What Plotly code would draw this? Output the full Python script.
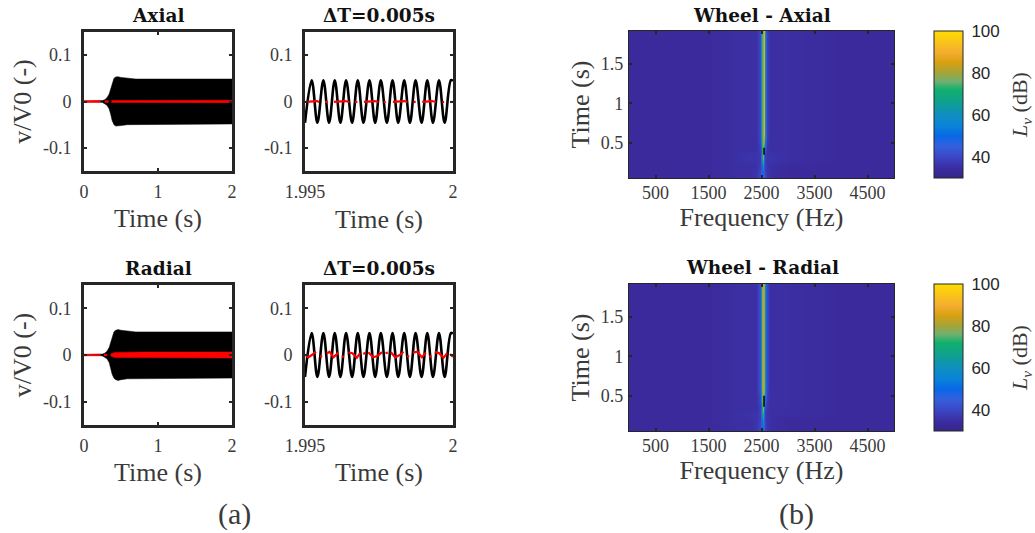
import plotly.graph_objects as go

W, H = 1035, 533
INK = "#262626"
TXT = "#3a3a3a"
SERIF = "Liberation Serif"
TITLE_FONT = "DejaVu Serif"

# --- full-record envelopes (s, v/V0)
ENV_T = [0, 0.2, 0.25, 0.28, 0.31, 0.34, 0.36, 0.38, 0.405, 0.43, 0.46, 0.5, 0.585, 0.7, 1.0, 2.0]
ENV_AXIAL = [0.0005, 0.001, 0.002, 0.004, 0.008, 0.016, 0.027, 0.041, 0.05, 0.053, 0.0535, 0.052, 0.05, 0.0485, 0.0485, 0.0485]
ENV_RADIAL = [0.0005, 0.001, 0.002, 0.004, 0.008, 0.016, 0.027, 0.041, 0.05, 0.053, 0.0545, 0.053, 0.051, 0.0495, 0.0495, 0.0495]
RED_AXIAL_T = [[0, 0.22], [0.28, 0.33], [0.37, 0.8, 2.0]]
RED_AXIAL_A = [[0.002, 0.002], [0.002, 0.002], [0.002, 0.0025, 0.0025]]
RED_RADIAL_T = [[0, 0.22], [0.27, 0.31], [0.36, 0.42, 0.8, 2.0]]
RED_RADIAL_A = [[0.0018, 0.0018], [0.002, 0.002], [0.002, 0.0055, 0.0065, 0.0065]]

# --- 5 ms window: extrema of the sine (ms after 1.995 s)
WIN_T_AXIAL = [0, 0.226, 0.418, 0.621, 0.813, 1.005, 1.196, 1.388, 1.591, 1.783, 1.975, 2.178, 2.370, 2.562,
               2.765, 2.957, 3.149, 3.352, 3.544, 3.736, 3.939, 4.131, 4.323, 4.526, 4.718, 4.93, 5.0]
WIN_V_AXIAL = [-0.046, 0.046, -0.046, 0.046, -0.046, 0.046, -0.046, 0.046, -0.046, 0.046, -0.046, 0.046, -0.046,
               0.046, -0.046, 0.046, -0.046, 0.046, -0.046, 0.046, -0.046, 0.046, -0.046, 0.046, -0.046, 0.046, 0.045]
WIN_V_RADIAL = [-0.047, 0.047, -0.047, 0.047, -0.047, 0.047, -0.047, 0.047, -0.047, 0.047, -0.047, 0.047, -0.047,
                0.047, -0.047, 0.047, -0.047, 0.047, -0.047, 0.047, -0.047, 0.047, -0.047, 0.047, -0.047, 0.047, 0.046]

RED_WIN_T_AXIAL = [0.03, 0.2, 0.4, 0.48, None, 0.68, 0.78, None, 0.98, 1.15, 1.35, 1.5, None, 1.69, 1.77, None,
                   1.99, 2.15, 2.35, 2.48, None, 2.66, 2.73, None, 2.97, 3.15, 3.35, 3.46, None, 3.66, 3.74, None,
                   3.96, 4.1, 4.3, 4.42, None, 4.64, 4.7, None, 4.93, 5.0]
RED_WIN_V_AXIAL = [-0.001, 0.0, 0.001, -0.001, None, -0.001, -0.001, None, -0.001, 0.0, 0.001, -0.001, None, -0.001, -0.001, None,
                   -0.001, 0.0, 0.001, -0.001, None, -0.001, -0.001, None, -0.001, 0.0, 0.001, -0.001, None, -0.001, -0.001, None,
                   -0.001, 0.0, 0.001, -0.001, None, -0.001, -0.001, None, -0.001, -0.001]
RED_WIN_T_RADIAL = [0.0, 0.11, 0.23, 0.37, None, 0.51, 0.58, None, 0.73, 0.83, 0.96, 1.13, None, 1.24, 1.31, None,
                    1.46, 1.6, 1.75, 1.86, None, 1.97, 2.05, None, 2.14, 2.3, 2.45, 2.6, None, 2.72, 2.8, None,
                    2.9, 3.05, 3.2, 3.33, None, 3.45, 3.52, None, 3.65, 3.8, 3.95, 4.08, None, 4.2, 4.28, None,
                    4.38, 4.53, 4.68, 4.8, None, 4.9, 5.0]
RED_WIN_V_RADIAL = [0.001, -0.005, 0.0, 0.007, None, -0.002, -0.004, None, 0.003, 0.007, -0.005, 0.005, None, -0.004, -0.003, None,
                    0.006, 0.004, -0.006, 0.004, None, 0.002, 0.005, None, 0.006, -0.005, -0.002, 0.006, None, 0.004, 0.005, None,
                    0.006, -0.005, 0.0, 0.007, None, -0.002, -0.004, None, 0.005, 0.007, -0.005, 0.005, None, -0.004, -0.002, None,
                    0.006, 0.004, -0.006, 0.004, None, 0.002, -0.004]

# --- spectrograms
FREQ = [0, 500, 1000, 1500, 2000, 2250, 2400, 2470, 2495, 2510, 2525, 2540, 2555, 2570, 2595, 2660, 3000, 4000, 5000]
TIMES = [0.05, 0.14, 0.2, 0.27, 0.34, 0.42, 0.6, 1.2, 1.92]
AX_T005 = [34, 34, 34, 34, 35, 35, 36, 40, 43, 45, 46, 44, 43, 40, 37, 35, 34, 34, 34]
AX_T014 = [34, 34, 34, 34, 35, 35, 36, 39, 43, 47, 50, 47, 43, 39, 36, 35, 34, 34, 34]
AX_T020 = [34, 34, 34, 34, 35, 35, 35, 38, 42, 50, 62, 50, 42, 38, 36, 35, 34, 34, 34]
AX_T027 = [34, 34, 34, 34, 35, 36, 36, 37, 44, 60, 72, 62, 44, 38, 36, 36, 35, 34, 34]
AX_T034 = [34, 34, 34, 34, 35, 36, 36, 37, 46, 66, 80, 78, 52, 38, 36, 36, 35, 34, 34]
AX_T042 = [34, 34, 34, 34, 35, 35, 35, 38, 50, 72, 82, 86, 66, 42, 36, 35, 35, 34, 34]
AX_T060 = [34, 34, 34, 34, 35, 35, 35, 40, 60, 74, 80, 88, 88, 58, 38, 35, 35, 34, 34]
AX_T120 = [34, 34, 34, 34, 35, 35, 35, 40, 60, 74, 80, 88, 88, 58, 38, 35, 35, 34, 34]
AX_T192 = [34, 34, 34, 34, 35, 35, 35, 40, 60, 74, 80, 88, 88, 58, 38, 35, 35, 34, 34]
RA_T005 = [34, 34, 34, 34, 35, 35, 36, 39, 43, 46, 48, 45, 42, 39, 36, 35, 34, 34, 34]
RA_T014 = [34, 34, 34, 34, 35, 35, 36, 39, 44, 48, 56, 48, 44, 39, 36, 35, 34, 34, 34]
RA_T020 = [34, 34, 34, 34, 35, 35, 36, 38, 44, 52, 66, 52, 44, 38, 36, 35, 34, 34, 34]
RA_T027 = [34, 34, 34, 34, 35, 36, 36, 38, 45, 62, 72, 64, 46, 38, 36, 35, 35, 34, 34]
RA_T034 = [34, 34, 34, 34, 35, 35, 35, 38, 48, 70, 80, 78, 54, 40, 36, 35, 35, 34, 34]
RA_T042 = [34, 34, 34, 34, 35, 35, 35, 39, 54, 74, 84, 86, 68, 44, 37, 35, 35, 34, 34]
RA_T060 = [34, 34, 34, 34, 35, 35, 35, 42, 62, 76, 84, 92, 80, 60, 40, 35, 35, 34, 34]
RA_T120 = [34, 34, 34, 34, 35, 35, 35, 42, 62, 76, 84, 92, 80, 60, 40, 35, 35, 34, 34]
RA_T192 = [34, 34, 34, 34, 35, 35, 35, 42, 62, 76, 84, 92, 80, 60, 40, 35, 35, 34, 34]
BLACK_F = 2548
BLACK_T_AXIAL = [0.347, 0.436]
BLACK_T_RADIAL = [0.36, 0.5]

CMAP_LEVELS = [30, 34, 40, 45, 50, 55, 60, 66, 72, 76, 80, 85, 90, 100]
CMAP_COLORS = ["#35268a", "#3b2a9c", "#3c46c6", "#3560dc", "#0868e8", "#0a84d8", "#0f8ec0", "#10a090",
               "#10b06e", "#70b070", "#a4a43a", "#d9a010", "#f5ae30", "#ffdc00"]
colorscale = [[(v - 30) / 70, c] for v, c in zip(CMAP_LEVELS, CMAP_COLORS)]


def xdom(a, b):
    return [a / W, b / W]


def ydom(top, bottom):
    return [1 - bottom / H, 1 - top / H]


def band(t, a):
    return t + t[::-1] + [None], a + [-v for v in a[::-1]] + [None]


def flat(ts, amps):
    X, Y = [], []
    for t, a in zip(ts, amps):
        x, y = band(t, a)
        X += x
        Y += y
    return X, Y


fig = go.Figure()

tick_font = dict(family=SERIF, size=18, color=TXT)
lab_font = dict(family=SERIF, size=26, color=TXT)


def frame(lw):
    return dict(showline=True, linecolor=INK, linewidth=lw, mirror="allticks", ticks="inside", ticklen=3,
                tickwidth=1.5, tickcolor=INK, showgrid=False, zeroline=False, tickfont=tick_font, automargin=False)


def add_time_axes(n, xd, yd, xr, xvals, xtext, ylab, xstand):
    xa = frame(2.6)
    ya = frame(2.6)
    xa.update(domain=xdom(*xd), range=xr, tickvals=xvals, ticktext=xtext, anchor=f"y{n}",
              ticklabelstandoff=3, title=dict(text="Time (s)", font=lab_font, standoff=xstand))
    ya.update(domain=ydom(*yd), range=[-0.15, 0.15], tickvals=[-0.1, 0, 0.1], ticktext=["-0.1", "0", "0.1"],
              anchor=f"x{n}", ticklabelstandoff=6)
    if ylab:
        ya["title"] = dict(text=ylab, font=lab_font, standoff=4)
    fig.update_layout({f"xaxis{n}": xa, f"yaxis{n}": ya})


TOP, BOT = (32, 171), (285, 425)
add_time_axes(1, (84, 232), TOP, [0, 2], [0, 1, 2], ["0", "1", "2"], "v/V0 (-)", 8)
add_time_axes(2, (305, 453), TOP, [1.995, 2.0], [1.995, 2.0], ["1.995", "2"], None, 9)
add_time_axes(3, (84, 232), BOT, [0, 2], [0, 1, 2], ["0", "1", "2"], "v/V0 (-)", 8)
add_time_axes(4, (305, 453), BOT, [1.995, 2.0], [1.995, 2.0], ["1.995", "2"], None, 8)


def add_full(n, env, red_t, red_a):
    xs, ys = band(ENV_T, env)
    fig.add_trace(go.Scatter(x=xs, y=ys, mode="lines", fill="toself", fillcolor="#000000",
                             line=dict(color="#000000", width=0.5), xaxis=f"x{n}", yaxis=f"y{n}"))
    xs, ys = flat(red_t, red_a)
    fig.add_trace(go.Scatter(x=xs, y=ys, mode="lines", fill="toself", fillcolor="#ff0000",
                             line=dict(color="#ff0000", width=0.5), xaxis=f"x{n}", yaxis=f"y{n}"))


def sec(ms):
    return [None if m is None else 1.995 + m / 1000 for m in ms]


def add_win(n, v, rt, rv):
    fig.add_trace(go.Scatter(x=sec(WIN_T_AXIAL), y=v, mode="lines", line=dict(color="#000000", width=2.6, shape="spline", smoothing=1),
                             xaxis=f"x{n}", yaxis=f"y{n}"))
    fig.add_trace(go.Scatter(x=sec(rt), y=rv, mode="lines", line=dict(color="#ff0000", width=2.2),
                             connectgaps=False, xaxis=f"x{n}", yaxis=f"y{n}"))


add_full(1, ENV_AXIAL, RED_AXIAL_T, RED_AXIAL_A)
add_win(2, WIN_V_AXIAL, RED_WIN_T_AXIAL, RED_WIN_V_AXIAL)
add_full(3, ENV_RADIAL, RED_RADIAL_T, RED_RADIAL_A)
add_win(4, WIN_V_RADIAL, RED_WIN_T_RADIAL, RED_WIN_V_RADIAL)


def add_spec(n, rows, yd, black_t):
    xa = frame(1.2)
    ya = frame(1.2)
    xa.update(domain=xdom(629, 894), range=[0, 5000], tickvals=[500, 1500, 2500, 3500, 4500], anchor=f"y{n}",
              ticklabelstandoff=-2, title=dict(text="Frequency (Hz)", font=lab_font, standoff=1))
    ya.update(domain=ydom(*yd), range=[0.05, 1.92], tickvals=[0.5, 1, 1.5], ticktext=["0.5", "1", "1.5"], anchor=f"x{n}",
              ticklabelstandoff=1, title=dict(text="Time (s)", font=lab_font, standoff=3))
    fig.update_layout({f"xaxis{n}": xa, f"yaxis{n}": ya})
    fig.add_trace(go.Heatmap(
        x=FREQ, y=TIMES, z=rows, zmin=30, zmax=100, zsmooth="best", colorscale=colorscale, xaxis=f"x{n}", yaxis=f"y{n}",
        colorbar=dict(x=934 / W, xanchor="left", thickness=29, thicknessmode="pixels",
                      len=(yd[1] - yd[0]) / H, lenmode="fraction", y=1 - (yd[0] + yd[1]) / 2 / H, yanchor="middle",
                      ypad=0, xpad=0, tickvals=[40, 60, 80, 100], ticks="outside", ticklen=5, tickcolor="white",
                      outlinewidth=1, outlinecolor=INK,
                      tickfont=dict(family="Liberation Sans", size=17, color=INK))))
    fig.add_trace(go.Scatter(x=[BLACK_F, BLACK_F], y=black_t, mode="lines", line=dict(color="#000000", width=1.5),
                             xaxis=f"x{n}", yaxis=f"y{n}"))


add_spec(5, [AX_T005, AX_T014, AX_T020, AX_T027, AX_T034, AX_T042, AX_T060, AX_T120, AX_T192], (31, 178), BLACK_T_AXIAL)
add_spec(6, [RA_T005, RA_T014, RA_T020, RA_T027, RA_T034, RA_T042, RA_T060, RA_T120, RA_T192], (284, 431), BLACK_T_RADIAL)

ANN = [
    ("<b>Axial</b>", 158, 16, 18.5, TITLE_FONT, "#111111", 0),
    ("<b>ΔT=0.005s</b>", 379, 16, 18.5, TITLE_FONT, "#111111", 0),
    ("<b>Radial</b>", 158, 268, 18.5, TITLE_FONT, "#111111", 0),
    ("<b>ΔT=0.005s</b>", 379, 268, 18.5, TITLE_FONT, "#111111", 0),
    ("<b>Wheel - Axial</b>", 762, 15, 18.5, TITLE_FONT, "#111111", 0),
    ("<b>Wheel - Radial</b>", 762, 267, 18.5, TITLE_FONT, "#111111", 0),
    ("(a)", 234, 514, 30, SERIF, TXT, 0),
    ("(b)", 796, 514, 30, SERIF, TXT, 0),
    ("<i>L<sub>v</sub></i> (dB)", 1021, 105, 22, SERIF, TXT, -90),
    ("<i>L<sub>v</sub></i> (dB)", 1021, 358, 22, SERIF, TXT, -90),
]
fig.update_layout(annotations=[
    dict(text=t, x=x / W, y=1 - y / H, xref="paper", yref="paper", xanchor="center", yanchor="middle",
         showarrow=False, textangle=a, font=dict(family=f, size=s, color=c))
    for t, x, y, s, f, c, a in ANN])

fig.update_layout(width=W, height=H, margin=dict(l=0, r=0, t=0, b=0, autoexpand=False), autosize=False, showlegend=False,
                  paper_bgcolor="white", plot_bgcolor="white")
fig.write_html("out.html", config={"displayModeBar": False},
               post_script="document.body.style.margin='0';document.documentElement.style.overflow='hidden';")
